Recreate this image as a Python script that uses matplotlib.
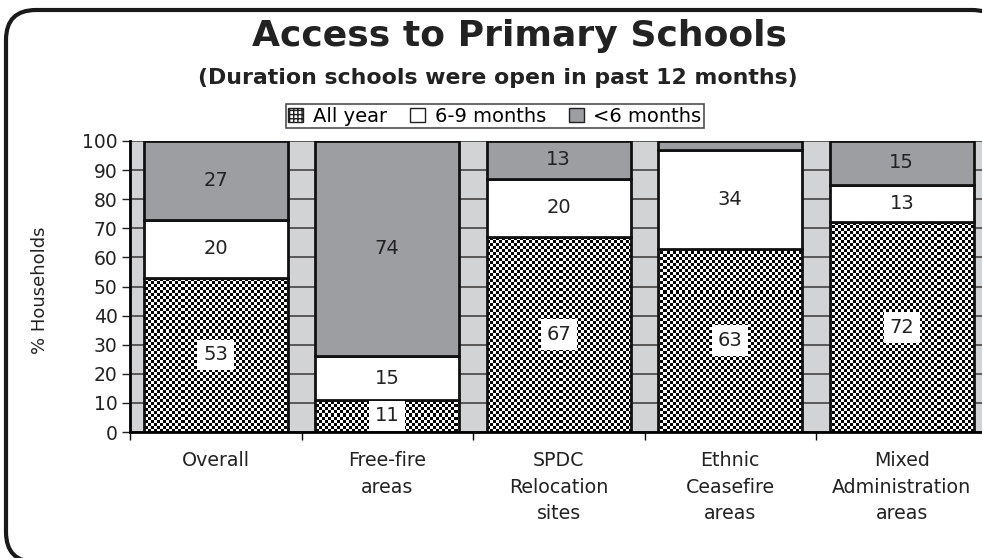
import matplotlib
matplotlib.use('Agg')
import matplotlib.pyplot as plt
import numpy as np
from matplotlib.patches import FancyBboxPatch, Rectangle

# данные с графика
categories = ['Overall', 'Free-fire\nareas', 'SPDC\nRelocation\nsites',
              'Ethnic\nCeasefire\nareas', 'Mixed\nAdministration\nareas']
all_year = [53, 11, 67, 63, 72]
six_nine = [20, 15, 20, 34, 13]
under_six = [27, 74, 13, 3, 15]
series_names = ['All year', '6-9 months', '<6 months']
yticks = list(range(0, 101, 10))

GRAY = '#9d9ea2'
BG = '#d2d3d5'
TXT = '#222222'

plt.rcParams['font.family'] = 'DejaVu Sans'
fig = plt.figure(figsize=(9.82, 5.58), dpi=100)
ax = fig.add_axes([130 / 982, 126 / 558, 857.5 / 982, 291 / 558])
ax.set_facecolor(BG)

x = np.arange(len(categories))
w = 0.84
bottom2 = np.array(all_year)
bottom3 = bottom2 + np.array(six_nine)

# шахматная заливка для "All year" - картинка, обрезанная по столбцу
bars1 = ax.bar(x, all_year, w, facecolor='none', edgecolor='#111111', lw=2, zorder=3)
ny, nx = 97, 286
checker = (np.add.outer(np.arange(ny), np.arange(nx)) % 2).astype(float)
for b in bars1:
    im = ax.imshow(checker, cmap='gray', extent=(-0.5, 4.5, 0, 100), aspect='auto',
                   interpolation='nearest', zorder=2, origin='lower')
    im.set_clip_path(b)
bars2 = ax.bar(x, six_nine, w, bottom=bottom2, color='white', edgecolor='#111111', lw=2, zorder=3)
bars3 = ax.bar(x, under_six, w, bottom=bottom3, color=GRAY, edgecolor='#111111', lw=2, zorder=3)

# подписи значений
for i in range(len(x)):
    ax.text(x[i], all_year[i] / 2, str(all_year[i]), ha='center', va='center', fontsize=14,
            color=TXT, zorder=5,
            bbox=dict(boxstyle='square,pad=0.3', fc='white', ec='none'))
    ax.text(x[i], bottom2[i] + six_nine[i] / 2, str(six_nine[i]), ha='center', va='center',
            fontsize=14, color=TXT, zorder=5)
    if under_six[i] >= 5:
        ax.text(x[i], bottom3[i] + under_six[i] / 2, str(under_six[i]), ha='center', va='center',
                fontsize=14, color=TXT, zorder=5)

ax.set_xlim(-0.5, 4.5)
ax.set_ylim(0, 100)
ax.set_yticks(yticks)
ax.yaxis.grid(True, color='#444444', lw=1.2, zorder=1)
ax.set_axisbelow(True)
ax.tick_params(axis='y', labelsize=13.5, length=6, width=1, direction='out', colors=TXT, pad=3)

# деления оси X на границах категорий, подписи по центрам
ax.set_xticks(np.arange(-0.5, 5, 1))
ax.set_xticklabels([])
ax.set_xticks(x, minor=True)
ax.set_xticklabels(categories, minor=True, fontsize=13.7, linespacing=1.5, color=TXT)
ax.tick_params(axis='x', which='major', length=6, width=1)
ax.tick_params(axis='x', which='minor', length=0, pad=14)

for s in ['top', 'right']:
    ax.spines[s].set_visible(False)
ax.spines['left'].set_linewidth(2)
ax.spines['bottom'].set_linewidth(2)
ax.spines['left'].set_zorder(4)
ax.spines['bottom'].set_zorder(4)

fig.text(40 / 982, 1 - 290 / 558, '% Households', rotation=90, ha='center', va='center',
         fontsize=13, color=TXT)

# заголовки
fig.text(520 / 982, 1 - 36 / 558, 'Access to Primary Schools', ha='center', va='center',
         fontsize=26, fontweight='bold', color=TXT)
fig.text(498 / 982, 1 - 78 / 558, '(Duration schools were open in past 12 months)',
         ha='center', va='center', fontsize=15.8, fontweight='bold', color=TXT)

# легенда
leg_handles = [Rectangle((0, 0), 1, 1, facecolor='white', edgecolor=TXT, hatch='++++'),
               Rectangle((0, 0), 1, 1, facecolor='white', edgecolor=TXT),
               Rectangle((0, 0), 1, 1, facecolor=GRAY, edgecolor=TXT)]
leg = fig.legend(leg_handles, series_names, loc='center', bbox_to_anchor=(495 / 982, 1 - 116 / 558),
                 ncol=3, fontsize=14, frameon=True, fancybox=False, handlelength=0.75,
                 handleheight=0.75, handletextpad=0.5, columnspacing=1.2, borderpad=0.15)
leg.get_frame().set_edgecolor(TXT)
leg.get_frame().set_linewidth(1.2)

# рамка со скруглёнными углами (правый и нижний край обрезаны).
# заливка белая и под осями: иначе agg обрезает незалитый путь по краю холста и портит скругление
frame = FancyBboxPatch((6, -4), 996, 552, boxstyle='round,pad=0,rounding_size=30',
                       transform=None, facecolor='white', lw=3, edgecolor='#1a1a1a', zorder=-1)
fig.add_artist(frame)

fig.savefig('out.png', dpi=100)
